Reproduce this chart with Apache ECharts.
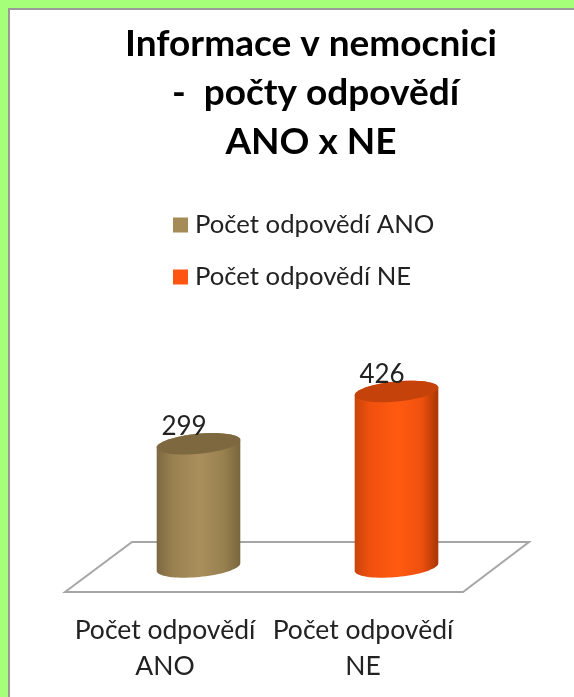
<!DOCTYPE html>
<html>
<head>
<meta charset="utf-8">
<script src="https://cdn.jsdelivr.net/npm/echarts@6/dist/echarts.min.js"></script>
<style>
    html, body { margin: 0; height: 100%; background: #a6ff78; overflow: hidden; }
    #frame { position: absolute; left: 8px; top: 8px; right: 0; bottom: 0; background: #fff; border-left: 2px solid #999; border-top: 2px solid #999; }
    #main { position: absolute; left: 0; top: 0; width: 574px; height: 697px; }
</style>
</head>
<body>
<div id="frame"></div>
<div id="main"></div>
<script>
    const titleText = 'Informace v nemocnici\n -  počty odpovědí\nANO x NE';
    const categories = ['Počet odpovědí\nANO', 'Počet odpovědí\nNE'];
    const seriesNames = ['Počet odpovědí ANO', 'Počet odpovědí NE'];
    const anoValues = [[0, 299]];
    const neValues = [[1, 426]];

    const fontName = 'Lato';
    const chart = echarts.init(document.getElementById('main'));

    //point list along a tilted ellipse
    function ellipsePoints(cx, cy, from, to) {
        const rx = 42, ry = 10, tilt = -5.5 * Math.PI / 180;
        const pts = [];
        for (let i = 0; i <= 40; i++) {
            const t = from + (to - from) * i / 40;
            const a = rx * Math.cos(t), b = ry * Math.sin(t);
            pts.push([cx + a * Math.cos(tilt) - b * Math.sin(tilt), cy + a * Math.sin(tilt) + b * Math.cos(tilt)]);
        }
        return pts;
    }

    //cylinder, shifted right because the floor has depth
    function cylinder(edge, side, mid, edgeRight, topColor) {
        return function (params, api) {
            const value = api.value(1);
            const top = api.coord([api.value(0), value]);
            const base = api.coord([api.value(0), 0]);
            const cx = top[0] + 33.5;
            const body = ellipsePoints(cx, base[1], 0, Math.PI).concat(ellipsePoints(cx, top[1], Math.PI, 2 * Math.PI));
            return {
                type: 'group',
                children: [
                    {
                        type: 'polygon',
                        shape: { points: body },
                        style: {
                            fill: new echarts.graphic.LinearGradient(0, 0, 1, 0, [
                                { offset: 0, color: edge },
                                { offset: 0.18, color: side },
                                { offset: 0.52, color: mid },
                                { offset: 0.8, color: side },
                                { offset: 1, color: edgeRight }
                            ])
                        }
                    },
                    {
                        type: 'polygon',
                        shape: { points: ellipsePoints(cx, top[1], 0, 2 * Math.PI) },
                        style: { fill: topColor }
                    },
                    {
                        type: 'text',
                        x: cx - 14.5,
                        y: top[1] - 17,
                        style: { text: String(value), fill: '#222', font: '26px ' + fontName, align: 'center', verticalAlign: 'middle' }
                    }
                ]
            };
        };
    }

    //floor of the plot, taken from the grid rectangle
    function floor(params) {
        const g = params.coordSys;
        const b = g.y + g.height;
        return {
            type: 'polygon',
            shape: { points: [[g.x - 1, b + 25], [g.x + 66, b - 25], [g.x + g.width + 67, b - 25], [g.x + g.width + 1, b + 25]] },
            style: { fill: '#fff', stroke: '#a6a6a6', lineWidth: 2 }
        };
    }

    const option = {
        animation: false,
        title: {
            text: titleText,
            left: 306,
            top: 15,
            textAlign: 'center',
            textStyle: { fontFamily: fontName, fontWeight: 'bold', fontSize: 37, lineHeight: 49, color: '#000' }
        },
        legend: {
            data: seriesNames,
            orient: 'vertical',
            left: 168,
            top: 207,
            itemWidth: 15,
            itemHeight: 15,
            itemGap: 26,
            icon: 'rect',
            textStyle: { fontFamily: fontName, fontSize: 25.7, color: '#222', padding: [0, 0, 0, 2] }
        },
        grid: { left: 66, width: 396, top: 361, bottom: 130 },
        xAxis: {
            type: 'category',
            data: categories,
            axisLine: { show: false },
            axisTick: { show: false },
            axisLabel: { interval: 0, margin: 45, fontFamily: fontName, fontSize: 26.5, lineHeight: 36, color: '#222' }
        },
        yAxis: { type: 'value', min: 0, max: 500, show: false },
        series: [
            { type: 'custom', name: 'floor', data: [[0, 0]], z: 1, silent: true, renderItem: floor },
            {
                type: 'custom', name: seriesNames[0], data: anoValues, z: 2, clip: false,
                itemStyle: { color: '#a58b58' },
                encode: { x: 0, y: 1 },
                renderItem: cylinder('#7c6842', '#98804f', '#a98f5c', '#7a663f', '#7e6840')
            },
            {
                type: 'custom', name: seriesNames[1], data: neValues, z: 2, clip: false,
                itemStyle: { color: '#ff5510' },
                encode: { x: 0, y: 1 },
                renderItem: cylinder('#c8440a', '#f0500e', '#ff5a10', '#a83604', '#c5420a')
            }
        ]
    };

    chart.setOption(option);
</script>
</body>
</html>
